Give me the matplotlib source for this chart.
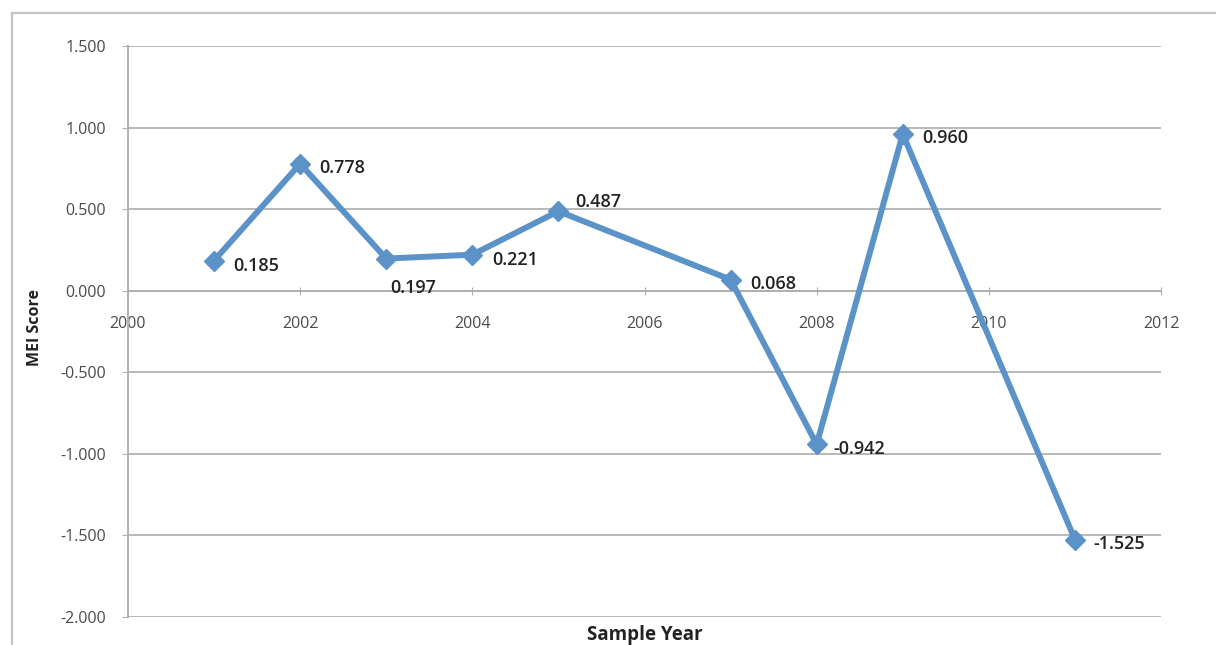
import matplotlib.pyplot as plt
from matplotlib.patches import Rectangle
from matplotlib.ticker import FormatStrFormatter

years = [2001, 2002, 2003, 2004, 2005, 2007, 2008, 2009, 2011]
mei = [0.185, 0.778, 0.197, 0.221, 0.487, 0.068, -0.942, 0.960, -1.525]
labels = ['0.185', '0.778', '0.197', '0.221', '0.487', '0.068', '-0.942', '0.960', '-1.525']
# label offsets in points (dx, dy)
offs = [(14, -4), (14, -3), (3, -21), (14, -4), (12, 7), (14, -3), (12, -3), (14, -3), (13, -3)]

plt.rcParams['font.family'] = ['Open Sans', 'DejaVu Sans']
fig = plt.figure(figsize=(12.16, 6.45), dpi=100, facecolor='white')

# outer chart frame
fig.patches.append(Rectangle((12/1216, -0.1), 1.2, 1.1 - 13/645,
                             transform=fig.transFigure, fill=False,
                             edgecolor='#c4c4c4', lw=1.6))

ax = fig.add_axes([128/1216, 1-617/645, (1161-128)/1216, (617-46)/645])
ax.set_xlim(2000, 2012)
ax.set_ylim(-2.0, 1.5)
ax.set_yticks([-2.0, -1.5, -1.0, -0.5, 0.0, 0.5, 1.0, 1.5])
ax.set_xticks([2000, 2002, 2004, 2006, 2008, 2010, 2012])
ax.yaxis.set_major_formatter(FormatStrFormatter('%.3f'))
ax.grid(axis='y', color='#b8b8b8', lw=1.4)
ax.set_axisbelow(True)

for s in ['top', 'right']:
    ax.spines[s].set_visible(False)
ax.spines['bottom'].set_position(('data', 0))
ax.spines['bottom'].set_color('#b0b0b0')
ax.spines['bottom'].set_linewidth(1.4)
ax.spines['left'].set_color('#b0b0b0')
ax.spines['left'].set_linewidth(1.4)
ax.tick_params(axis='x', direction='inout', length=6, color='#b0b0b0',
               labelsize=11.5, labelcolor='#4a4a4a', pad=15)
ax.tick_params(axis='y', direction='out', length=4, color='#b0b0b0',
               labelsize=11.5, labelcolor='#4a4a4a', pad=12)

ax.plot(years, mei, color='#5b93c9', lw=4.3, marker='D', ms=10,
        markeredgecolor='#5b93c9', zorder=3)

for x, y, t, (dx, dy) in zip(years, mei, labels, offs):
    ax.annotate(t, (x, y), xytext=(dx, dy), textcoords='offset points',
                fontsize=13, fontweight='semibold', color='#222222',
                ha='left', va='center', zorder=4)

fig.text(35/1216, 1-328/645, 'MEI Score', rotation=90, ha='center', va='center',
         fontsize=11.5, fontweight='bold', color='#222222')
fig.text(645/1216, 1-635/645, 'Sample Year', ha='center', va='center',
         fontsize=13.5, fontweight='bold', color='#222222')

fig.savefig('out.png', dpi=100, facecolor='white')
